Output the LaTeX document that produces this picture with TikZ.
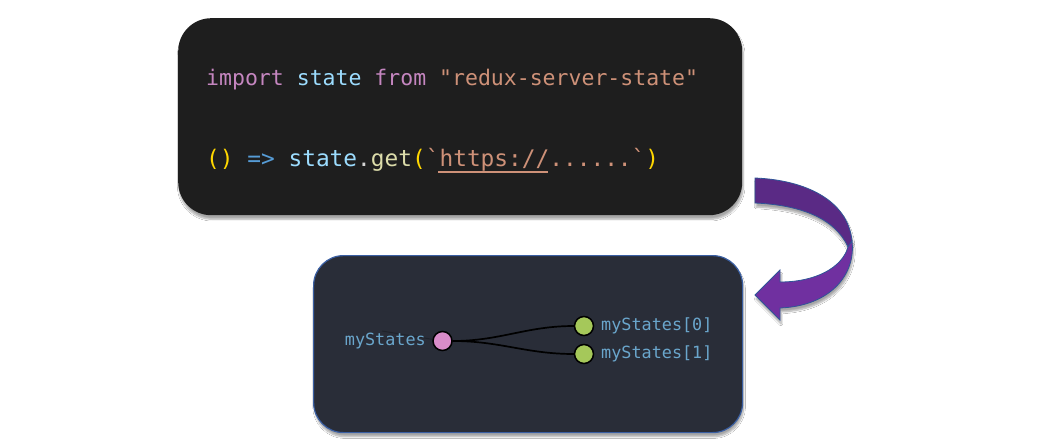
\documentclass[tikz,border=0pt]{standalone}
\usepackage{fontspec}
\setmonofont{DejaVu Sans Mono}
\usetikzlibrary{shadows.blur}

\definecolor{codebg}{HTML}{1E1E1E}
\definecolor{graphbg}{HTML}{292D38}
\definecolor{graphline}{HTML}{3A5FA3}
\definecolor{kwpink}{HTML}{C586C0}
\definecolor{varblue}{HTML}{9CDCFE}
\definecolor{strorange}{HTML}{CE9178}
\definecolor{brgold}{HTML}{FFD700}
\definecolor{opblue}{HTML}{569CD6}
\definecolor{fnyellow}{HTML}{DCDCAA}
\definecolor{punctgray}{HTML}{D4D4D4}
\definecolor{lblblue}{HTML}{6AA6CC}
\definecolor{rootpink}{HTML}{D98CC9}
\definecolor{leafgreen}{HTML}{A5C85A}
\definecolor{arrowdark}{HTML}{5A2A85}
\definecolor{arrowlight}{HTML}{7030A0}
\definecolor{arrowline}{HTML}{2F5597}

\begin{document}
\begin{tikzpicture}
        [x=1pt,y=-1pt,
         softshadow/.style={blur shadow={shadow xshift=1pt,shadow yshift=-4pt,shadow blur steps=8,shadow opacity=35}},
         codebox/.style={rounded corners=33pt,fill=codebg,inner sep=0pt,anchor=north west,softshadow},
         graphbox/.style={rounded corners=30pt,fill=graphbg,draw=graphline,line width=1.2pt,inner sep=0pt,anchor=north west,softshadow},
         codeline/.style={anchor=base west,inner sep=0pt,font=\ttfamily},
         dot/.style={circle,draw=black,line width=1.5pt,minimum size=19pt,inner sep=0pt},
         lbl/.style={inner sep=0pt,text=lblblue,font=\ttfamily\fontsize{16.8}{20}\selectfont},
         edge/.style={draw=black,line width=1.7pt}]
        \fill[white] (0,0) rectangle (1038,439);
        \useasboundingbox (0,0) rectangle (1038,439);

        % code panel
        \node[codebox,minimum width=564pt,minimum height=197pt] (code) at (178,18) {};
        \node[codeline,font=\ttfamily\fontsize{21.5}{26}\selectfont] (line1) at (206,85)
        {\color{kwpink}import \color{varblue}state \color{kwpink}from \color{strorange}"redux-server-state"};
        \node[codeline,font=\ttfamily\fontsize{22.8}{27}\selectfont] (line2) at (206,166)
        {\color{brgold}() \color{opblue}=> \color{varblue}state\color{punctgray}.\color{fnyellow}get\color{brgold}(\color{strorange}`https://......`\color{brgold})};
        \draw[strorange,line width=1.2pt] (438,172) -- (548,172);

        % curved arrow
        \filldraw[arrowdark,draw=arrowline,line width=0.8pt,softshadow]
        (755,178) .. controls (805,180) and (848,200) .. (852,241)
        -- (848,247) .. controls (835,218) and (800,205) .. (755,203) -- cycle;
        \filldraw[arrowlight,draw=arrowline,line width=0.8pt,softshadow]
        (852,241) .. controls (856,275) and (830,306) .. (780,308)
        -- (780,320) -- (755,295) -- (780,270) -- (780,282)
        .. controls (815,282) and (842,268) .. (848,247) -- cycle;

        % state graph panel
        \node[graphbox,minimum width=429pt,minimum height=177pt] (graph) at (313,255) {};

        \node[dot,fill=rootpink] (root) at (442.5,341) {};
        \node[dot,fill=leafgreen] (s0) at (584,326) {};
        \node[dot,fill=leafgreen] (s1) at (584,354) {};

        \coordinate (ghost) at (382,331);
        \draw[black,opacity=.22,line width=1pt] (ghost) -- (root);

        \node[lbl,anchor=mid east] (rootlbl) at (426,343) {myStates};
        \node[lbl,anchor=mid west] (s0lbl) at (601,328) {myStates[0]};
        \node[lbl,anchor=mid west] (s1lbl) at (601,356) {myStates[1]};

        \draw[edge] (root) to[out=0,in=180] (s0);
        \draw[edge] (root) to[out=0,in=180] (s1);
      \end{tikzpicture}
\end{document}
